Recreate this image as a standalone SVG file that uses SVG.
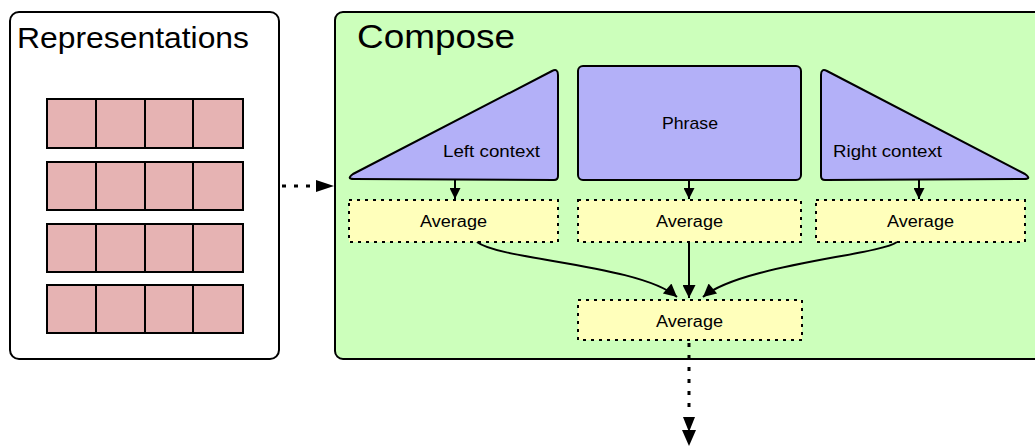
<svg xmlns="http://www.w3.org/2000/svg" width="1035" height="446" viewBox="0 0 1035 446">
<defs>
<style>
.lbl{font-family:"Liberation Sans",Arial,sans-serif;fill:#000}
.mid{font-size:17px}
.cell{fill:#e6b3b3;stroke:#000;stroke-width:2}
.shape{fill:#b3b0f8;stroke:#000;stroke-width:2;stroke-linejoin:round}
.avg{fill:#ffffbb;stroke:#000;stroke-width:2;stroke-dasharray:3 5}
.edge{fill:none;stroke:#000;stroke-width:2}
.dot{fill:none;stroke:#000;stroke-width:3;stroke-dasharray:4 8}
</style>
<marker id="ah" viewBox="0 0 10 10" refX="10" refY="5" markerWidth="15" markerHeight="11" markerUnits="userSpaceOnUse" orient="auto">
<path d="M0,0 L10,5 L0,10 z" fill="#000"/>
</marker>
<marker id="ah2" viewBox="0 0 10 10" refX="10" refY="5" markerWidth="16" markerHeight="13" markerUnits="userSpaceOnUse" orient="auto">
<path d="M0,0 L10,5 L0,10 z" fill="#000"/>
</marker>
</defs>
<g id="representations">
<rect x="10" y="12" width="269" height="347" rx="9" fill="#fff" stroke="#000" stroke-width="2"/>
<text class="lbl" font-size="30" x="17" y="48" textLength="232" lengthAdjust="spacingAndGlyphs">Representations</text>
<g>
<rect class="cell" x="47" y="99" width="49" height="49"/><rect class="cell" x="96" y="99" width="49" height="49"/><rect class="cell" x="145" y="99" width="48" height="49"/><rect class="cell" x="193" y="99" width="50" height="49"/>
<rect class="cell" x="47" y="162" width="49" height="48"/><rect class="cell" x="96" y="162" width="49" height="48"/><rect class="cell" x="145" y="162" width="48" height="48"/><rect class="cell" x="193" y="162" width="50" height="48"/>
<rect class="cell" x="47" y="224" width="49" height="48"/><rect class="cell" x="96" y="224" width="49" height="48"/><rect class="cell" x="145" y="224" width="48" height="48"/><rect class="cell" x="193" y="224" width="50" height="48"/>
<rect class="cell" x="47" y="285" width="49" height="48"/><rect class="cell" x="96" y="285" width="49" height="48"/><rect class="cell" x="145" y="285" width="48" height="48"/><rect class="cell" x="193" y="285" width="50" height="48"/>
</g>
</g>
<g id="compose">
<rect x="335" y="12" width="712" height="347" rx="8" fill="#ccffbb" stroke="#000" stroke-width="2"/>
<text class="lbl" font-size="34" x="357" y="48" textLength="158" lengthAdjust="spacingAndGlyphs">Compose</text>
</g>
<g id="left-context">
<path class="shape" d="M354,179 Q346,179 353,174 L552,71 Q558,68 558,75 L558,176 Q558,180 554,180 Z"/>
<text class="lbl mid" x="443" y="157" textLength="97" lengthAdjust="spacingAndGlyphs">Left context</text>
</g>
<g id="phrase">
<rect class="shape" x="578" y="66" width="223" height="114" rx="5"/>
<text class="lbl mid" x="662" y="129" textLength="56" lengthAdjust="spacingAndGlyphs">Phrase</text>
</g>
<g id="right-context">
<path class="shape" d="M821,75 Q821,68 827,71 L1025,174 Q1032,179 1024,179 L825,180 Q821,180 821,176 Z"/>
<text class="lbl mid" x="833" y="157" textLength="109" lengthAdjust="spacingAndGlyphs">Right context</text>
</g>
<g id="avg-left">
<rect class="avg" x="349" y="200" width="209" height="42"/>
<text class="lbl" font-size="16" x="420" y="227" textLength="67" lengthAdjust="spacingAndGlyphs">Average</text>
</g>
<g id="avg-mid">
<rect class="avg" x="578" y="200" width="223" height="42"/>
<text class="lbl" font-size="16" x="656" y="227" textLength="67" lengthAdjust="spacingAndGlyphs">Average</text>
</g>
<g id="avg-right">
<rect class="avg" x="816" y="200" width="209" height="42"/>
<text class="lbl" font-size="16" x="887" y="227" textLength="67" lengthAdjust="spacingAndGlyphs">Average</text>
</g>
<g id="avg-out">
<rect class="avg" x="578" y="300" width="224" height="40"/>
<text class="lbl" font-size="16" x="656" y="327" textLength="67" lengthAdjust="spacingAndGlyphs">Average</text>
</g>
<g id="connectors">
<path class="dot" d="M282,186 L318,186"/>
<path d="M316,180 L334,186 L316,192 z" fill="#000"/>
<path class="edge" d="M455,180 L455,199" marker-end="url(#ah)"/>
<path class="edge" d="M689,180 L689,199" marker-end="url(#ah)"/>
<path class="edge" d="M919,180 L919,199" marker-end="url(#ah)"/>
<path class="edge" d="M477,242 C500,260 640,265 677,297" marker-end="url(#ah2)"/>
<path class="edge" d="M689,242 L689,298" marker-end="url(#ah2)"/>
<path class="edge" d="M897,242 C880,255 740,265 703,297" marker-end="url(#ah2)"/>
<path class="dot" d="M689,343 L689,415"/>
<path d="M683,417 L695,417 L689,432 z" fill="#000"/>
<path d="M682,430 L696,430 L689,446 z" fill="#000"/>
</g>
</svg>
